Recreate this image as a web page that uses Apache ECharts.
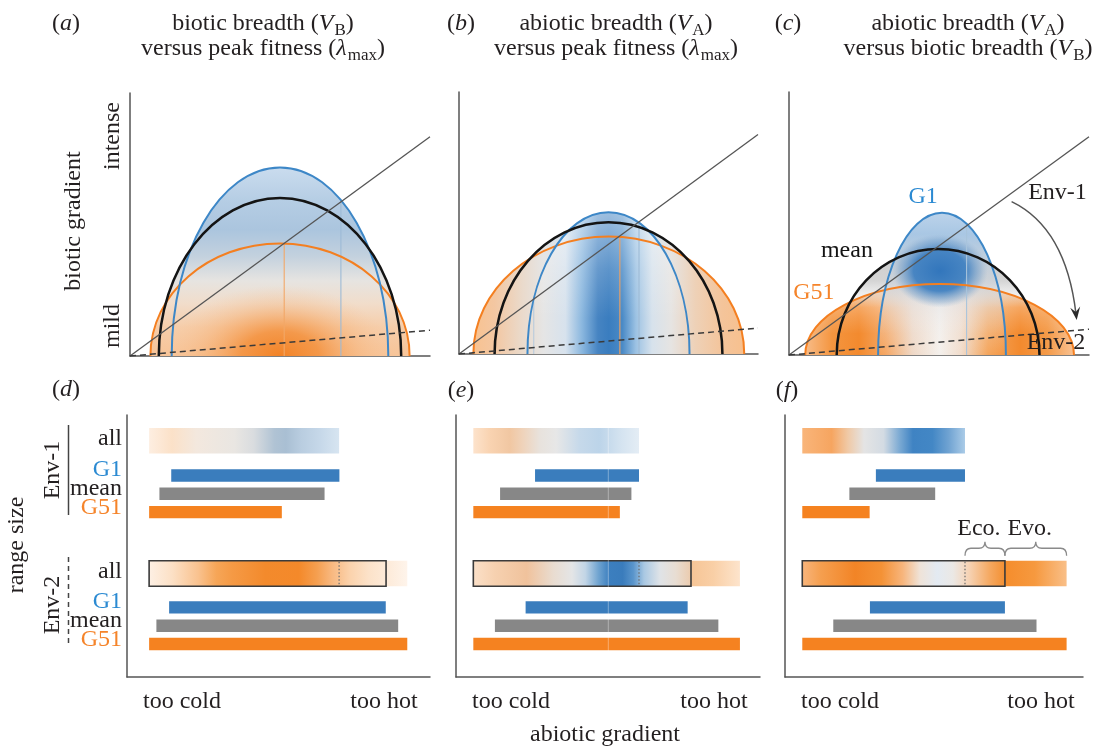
<!DOCTYPE html>
<html>
<head>
<meta charset="utf-8">
<title>Niche breadth and range size</title>
<script src="https://cdn.jsdelivr.net/npm/echarts@6/dist/echarts.min.js"></script>
<style>
html,body{margin:0;padding:0;background:#ffffff;}
#chart{width:1094px;height:749px;}
</style>
</head>
<body>
<div id="chart"></div>
<script>
// ===================== DATA =====================
// niche semi-ellipses of the top row, order: G1, mean, G51
const nicheNames = ['G1', 'mean', 'G51'];
// (a) biotic breadth vs peak fitness
const aCenter = [50.0, 50.0, 50.0];
const aHalfWidth = [36.1, 40.4, 43.2];
const aPeak = [71.7, 60.1, 42.8];
// (b) abiotic breadth vs peak fitness
const bCenter = [50.0, 50.0, 50.1];
const bHalfWidth = [27.1, 38.1, 45.3];
const bPeak = [54.1, 50.3, 44.8];
// (c) abiotic breadth vs biotic breadth
const cCenter = [51.0, 49.7, 50.2];
const cHalfWidth = [21.3, 33.8, 44.8];
const cPeak = [54.1, 40.3, 27.0];

// environment lines (x end points, y end points per panel)
const envX = [0, 100];
const env1A = [0, 83.4], env1B = [0, 83.8], env1C = [0, 83.0];
const env2A = [0, 9.8], env2B = [0, 9.9], env2C = [0, 9.8];

// where Env-1 crosses the niches (vertical markers)
const aMarkX = [70.3, 51.4], aMarkTop = [58.9, 42.6];
const bMarkX = [60.2, 53.8, 25.0], bMarkTop = [49.9, 44.8, 21.0];
const cMarkX = [59.2], cMarkTop = [49.4];

// panel (c) annotations
const cLabelText = ['G1', 'mean', 'G51', 'Env-1', 'Env-2'];
const cLabelX = [44.7, 19.3, 8.3, 89.5, 89.0];
const cLabelY = [60.1, 39.5, 23.6, 61.6, 4.6];
const cArrowX = [74.2, 92.3, 95.9];
const cArrowY = [58.3, 48.3, 13.3];

// bottom row: range limits along the abiotic gradient (0-100)
const rowNames = ['all', 'G1', 'mean', 'G51'];
const dEnv1From = [7.3, 14.6, 10.7, 7.3];
const dEnv1To   = [70.0, 70.1, 65.2, 51.1];
const dEnv2From = [7.3, 13.9, 9.7, 7.3];
const dEnv2To   = [92.5, 85.4, 89.5, 92.5];
const dEnv2Limit = 85.5;

const eEnv1From = [5.7, 26.0, 14.5, 5.7];
const eEnv1To   = [60.2, 60.2, 57.7, 53.9];
const eEnv2From = [5.7, 22.9, 12.8, 5.7];
const eEnv2To   = [93.4, 76.2, 86.3, 93.4];
const eEnv2Limit = 77.3;

const fEnv1From = [5.8, 30.5, 21.6, 5.8];
const fEnv1To   = [60.4, 60.4, 50.4, 28.4];
const fEnv2From = [5.8, 28.5, 16.2, 5.8];
const fEnv2To   = [94.5, 73.8, 84.4, 94.5];
const fEnv2Limit = 73.8;
const braceLabels = ['Eco.', 'Evo.'];

// ===================== STYLE / LAYOUT =====================
const FONT = "'Liberation Serif','Times New Roman','DejaVu Serif',serif";
const TXT = '#231f20';
const BLUE = '#3a7dbd', GREY = '#878787', ORANGE = '#f58220';
const BAR_COLORS = [null, BLUE, GREY, ORANGE];
const LINE_COLORS = ['#3d87c7', '#141414', '#f47f20'];
const LINE_WIDTHS = [2, 2.5, 2];
const LABEL_COLORS = ['#2b8ad2', '#141414', '#f5842a', TXT, TXT];
const ROW_LABEL_COLORS = [TXT, '#2b8ad2', TXT, '#f5842a'];
const ROW_ENV1 = [1.4, 3.3, 4.3, 5.3];
const ROW_ENV2 = [8.65, 10.5, 11.5, 12.5];
const ROW_LABEL_SHIFT = [-2, -6, -5, -4];
const ROW_MAX = 14.3;

const st = arr => arr.map(([o, c]) => ({offset: o, color: c}));
const A_FILL = [[0,'#cadcee'],[0.18,'#b5cde4'],[0.33,'#abc5de'],[0.47,'#c3d1de'],[0.6,'#e6e4e1'],[0.72,'#f1ddcb'],[0.85,'#f6cda9'],[1,'#f7c498']];
const A_BLOB = [[0,'rgba(242,127,32,0.95)'],[0.35,'rgba(243,136,45,0.75)'],[0.7,'rgba(246,165,95,0.3)'],[1,'rgba(248,190,140,0)']];
const B_FILL = [[0,'#f8c290'],[0.08,'#f3c7a2'],[0.18,'#eadacb'],[0.26,'#e5e5e5'],[0.34,'#d7e2ed'],[0.4,'#8cb8df'],[0.46,'#4684c2'],[0.5,'#3a7dbf'],[0.55,'#4a8ac6'],[0.6,'#9cc2e3'],[0.66,'#d7e2ec'],[0.73,'#e6e4e2'],[0.82,'#eed1b7'],[0.92,'#f4c49a'],[1,'#f7c08e']];
const B_FADE = [[0,'rgba(255,255,255,0.5)'],[0.4,'rgba(255,255,255,0.18)'],[0.75,'rgba(255,255,255,0)']];
const C_ORANGE = [[0,'#f8bd8a'],[0.1,'#f4953f'],[0.2,'#f38a2e'],[0.3,'#f5a764'],[0.4,'#efd8c6'],[0.5,'#f4f0ec'],[0.58,'#f1dccb'],[0.68,'#f4a55c'],[0.8,'#f38a2e'],[0.9,'#f49a48'],[1,'#f8c293']];
const C_OFADE = [[0,'rgba(255,255,255,0.5)'],[0.45,'rgba(255,255,255,0.15)'],[0.7,'rgba(255,255,255,0)']];
const C_GREY = [[0,'rgba(204,204,204,1)'],[0.3,'rgba(210,210,210,0.95)'],[0.42,'rgba(222,222,222,0.55)'],[0.55,'rgba(230,230,230,0)']];
const C_BLUE = [[0,'#bcd3ea'],[0.15,'#a9c7e4'],[0.3,'rgba(186,203,220,0.95)'],[0.5,'rgba(205,210,216,0.7)'],[0.7,'rgba(225,225,228,0.35)'],[1,'rgba(255,255,255,0)']];
const C_BLOB = [[0,'rgba(50,118,188,1)'],[0.55,'rgba(58,125,192,0.9)'],[0.85,'rgba(100,150,200,0.35)'],[1,'rgba(140,175,210,0)']];

const D_ALL1 = [[0,'#fdeee1'],[0.12,'#fbe1c8'],[0.25,'#f3e8de'],[0.45,'#e9e6e2'],[0.55,'#d9dcdf'],[0.66,'#b0c3d4'],[0.72,'#a9bfd3'],[0.8,'#b9cde0'],[0.9,'#c6d8e9'],[1,'#d7e5f1']];
const D_ALL2 = [[0,'#fdf0e4'],[0.09,'#fce0c5'],[0.19,'#f9c28f'],[0.26,'#f6a658'],[0.32,'#f59a45'],[0.45,'#f38a2c'],[0.58,'#f4892a'],[0.65,'#f59f50'],[0.71,'#f8b981'],[0.78,'#fbd3ad'],[0.85,'#fce2c9'],[0.91,'#fde9d6'],[1,'#fef4eb']];
const E_ALL1 = [[0,'#fde3cc'],[0.1,'#f9d3b1'],[0.22,'#f1c7a2'],[0.3,'#efd3bb'],[0.4,'#e8e2dc'],[0.5,'#e7e7e7'],[0.64,'#c6d9ea'],[0.76,'#bcd4e9'],[0.89,'#d4e3f0'],[1,'#e4edf5']];
const E_ALL2 = [[0,'#fbe0c8'],[0.08,'#f6d1b0'],[0.2,'#f0c29c'],[0.3,'#e9dcd0'],[0.37,'#e4e5e6'],[0.42,'#c2d5e6'],[0.47,'#6fa3d0'],[0.51,'#3c7fbf'],[0.56,'#3a7cbc'],[0.6,'#5a95cb'],[0.64,'#a9c8e3'],[0.7,'#dfe3e7'],[0.76,'#e8ddd2'],[0.81,'#ebcdb2'],[0.82,'#f6c596'],[0.9,'#f9cfa6'],[1,'#fde4cc']];
const F_ALL1 = [[0,'#f9b57a'],[0.18,'#f6a560'],[0.28,'#f0c9a6'],[0.38,'#e4e4e4'],[0.5,'#d3dbe3'],[0.6,'#7aa9d3'],[0.68,'#3f83c3'],[0.8,'#4387c5'],[0.9,'#70a3d2'],[1,'#aacbe7']];
const F_ALL2 = [[0,'#f8b57c'],[0.07,'#f59f4f'],[0.2,'#f28426'],[0.3,'#f49236'],[0.38,'#f7b57c'],[0.445,'#efe3d8'],[0.51,'#e3eaf2'],[0.57,'#ebe8e5'],[0.63,'#f6d3b5'],[0.71,'#f5a860'],[0.765,'#f39033'],[0.77,'#f58d2c'],[0.88,'#f6993f'],[1,'#f9bf88']];

// ===================== HELPERS =====================
const LG = echarts.graphic.LinearGradient, RG = echarts.graphic.RadialGradient;
function ellipseOf(api, cx, a, h) {
  const c = api.coord([cx, 0]);
  const s = api.size([a, h]);
  return {cx: c[0], cy: c[1], rx: s[0], ry: s[1]};
}
function blob(api, cx, cy, rx, ry, stops) {
  const c = api.coord([cx, cy]);
  const s = api.size([rx, ry]);
  return {type: 'circle', x: c[0], y: c[1], scaleX: s[0] / 100, scaleY: s[1] / 100,
    shape: {cx: 0, cy: 0, r: 100}, style: {fill: new RG(0.5, 0.5, 0.5, st(stops))}};
}
function txtStyle(extra) {
  return Object.assign({fontFamily: FONT, fontSize: 24, fill: TXT,
    align: 'center', verticalAlign: 'middle', textAlign: 'center', textVerticalAlign: 'middle'}, extra || {});
}

const topPanels = [
  {center: aCenter, half: aHalfWidth, peak: aPeak, env1: env1A, env2: env2A, markX: aMarkX, markTop: aMarkTop,
   markCol: ['#9dbbd6', '#f2a767']},
  {center: bCenter, half: bHalfWidth, peak: bPeak, env1: env1B, env2: env2B, markX: bMarkX, markTop: bMarkTop,
   markCol: ['#9dbbd6', '#f0a060', '#b8cbdc']},
  {center: cCenter, half: cHalfWidth, peak: cPeak, env1: env1C, env2: env2C, markX: cMarkX, markTop: cMarkTop,
   markCol: ['#a8c4dc']}
];

const decor = [
  // (a) vertical blue -> white -> orange wash, with an orange core
  function (api, i, shape, P) {
    const top = api.coord([0, Math.max.apply(null, P.peak)])[1], base = shape.cy;
    const els = [{type: 'ellipse', shape, style: {fill: new LG(0, top, 0, base, st(A_FILL), true)}}];
    if (i === 0) els.push(blob(api, P.center[0], 0, 37, 27, A_BLOB));
    return els;
  },
  // (b) horizontal orange / grey / blue bands
  function (api, i, shape, P) {
    const maxA = Math.max.apply(null, P.half);
    const x0 = api.coord([P.center[2] - maxA, 0])[0], x1 = api.coord([P.center[2] + maxA, 0])[0];
    const els = [{type: 'ellipse', shape, style: {fill: new LG(x0, 0, x1, 0, st(B_FILL), true)}}];
    if (i === 0) {
      els.push({type: 'ellipse', shape, style: {fill: new LG(0, shape.cy - shape.ry, 0, shape.cy, st(B_FADE), true)}});
    }
    return els;
  },
  // (c)
  function (api, i, shape, P) {
    const top = shape.cy - shape.ry;
    if (i === 2) {
      return [
        {type: 'ellipse', shape, style: {fill: new LG(shape.cx - shape.rx, 0, shape.cx + shape.rx, 0, st(C_ORANGE), true)}},
        {type: 'ellipse', shape, style: {fill: new LG(0, top, 0, shape.cy, st(C_OFADE), true)}}
      ];
    }
    if (i === 1) {
      return [{type: 'ellipse', shape, style: {fill: new LG(0, top, 0, shape.cy, st(C_GREY), true)}}];
    }
    return [
      {type: 'ellipse', shape, style: {fill: new LG(0, top, 0, shape.cy, st(C_BLUE), true)}},
      blob(api, 50.3, 32, 16, 14, C_BLOB)
    ];
  }
];

const series = [];
topPanels.forEach((P, g) => {
  const rows = [2, 1, 0].map(i => [P.center[i], P.half[i], P.peak[i], i]);
  series.push({
    type: 'custom', xAxisIndex: g, yAxisIndex: g, clip: true, z: 1, silent: true,
    encode: {x: 0, y: 2}, data: rows,
    renderItem(params, api) {
      const i = api.value(3);
      const shape = ellipseOf(api, api.value(0), api.value(1), api.value(2));
      return {type: 'group', children: decor[g](api, i, shape, P)};
    }
  });
  P.markX.forEach((x, k) => {
    series.push({type: 'line', xAxisIndex: g, yAxisIndex: g, z: 3, silent: true, symbol: 'none',
      data: [[x, 0], [x, P.markTop[k]]], lineStyle: {color: P.markCol[k], width: 1.1}});
  });
  series.push({
    type: 'custom', xAxisIndex: g, yAxisIndex: g, clip: true, z: 4, silent: true,
    encode: {x: 0, y: 2}, data: [2, 0, 1].map(i => [P.center[i], P.half[i], P.peak[i], i]),
    renderItem(params, api) {
      const i = api.value(3);
      const shape = ellipseOf(api, api.value(0), api.value(1), api.value(2));
      return {type: 'ellipse', shape, style: {fill: 'none', stroke: LINE_COLORS[i], lineWidth: LINE_WIDTHS[i]}};
    }
  });
  series.push({type: 'line', xAxisIndex: g, yAxisIndex: g, z: 5, silent: true, symbol: 'none',
    data: envX.map((x, k) => [x, P.env1[k]]), lineStyle: {color: '#555555', width: 1.3}});
  series.push({type: 'line', xAxisIndex: g, yAxisIndex: g, z: 5, silent: true, symbol: 'none',
    data: envX.map((x, k) => [x, P.env2[k]]), lineStyle: {color: '#3a3a3a', width: 1.5, type: [6, 4]}});
});

// panel (c) labels and arrow
series.push({
  type: 'custom', xAxisIndex: 2, yAxisIndex: 2, z: 6, silent: true, encode: {x: 0, y: 1},
  data: cLabelText.map((t, i) => [cLabelX[i], cLabelY[i], i]),
  renderItem(params, api) {
    const p = api.coord([api.value(0), api.value(1)]);
    const i = api.value(2);
    return {type: 'text', style: txtStyle({text: cLabelText[i], x: p[0], y: p[1], fill: LABEL_COLORS[i]})};
  }
});
series.push({
  type: 'custom', xAxisIndex: 2, yAxisIndex: 2, z: 6, silent: true, encode: {x: 0, y: 1},
  data: [[cArrowX[0], cArrowY[0], cArrowX[1], cArrowY[1], cArrowX[2], cArrowY[2]]],
  renderItem(params, api) {
    const p0 = api.coord([api.value(0), api.value(1)]);
    const pc = api.coord([api.value(2), api.value(3)]);
    const p2 = api.coord([api.value(4), api.value(5)]);
    let dx = p2[0] - pc[0], dy = p2[1] - pc[1];
    const len = Math.sqrt(dx * dx + dy * dy); dx /= len; dy /= len;
    const nx = -dy, ny = dx;
    const L = 13, W = 5, N = 8;
    return {type: 'group', children: [
      {type: 'bezierCurve', shape: {x1: p0[0], y1: p0[1], cpx1: pc[0], cpy1: pc[1], x2: p2[0] - dx * 6, y2: p2[1] - dy * 6},
        style: {fill: 'none', stroke: '#555555', lineWidth: 1.5}},
      {type: 'polygon', shape: {points: [
        [p2[0], p2[1]],
        [p2[0] - dx * L + nx * W, p2[1] - dy * L + ny * W],
        [p2[0] - dx * N, p2[1] - dy * N],
        [p2[0] - dx * L - nx * W, p2[1] - dy * L - ny * W]]},
        style: {fill: '#2a2a2a'}}
    ]};
  }
});

// bottom row bars
function barsSeries(g, from1, to1, from2, to2, limit, grad1, grad2) {
  const data = [];
  for (let i = 0; i < rowNames.length; i++) {
    data.push([from1[i], to1[i], ROW_ENV1[i], i, 0, 0]);
    data.push([from2[i], to2[i], ROW_ENV2[i], i, i === 0 ? limit : 0, i === 0 ? to1[0] : 0]);
  }
  return {
    type: 'custom', xAxisIndex: g, yAxisIndex: g, z: 3, silent: true,
    encode: {x: [0, 1], y: 2}, data,
    renderItem(params, api) {
      const s = api.value(0), e = api.value(1), row = api.value(2), kind = api.value(3);
      const lim = api.value(4), mark = api.value(5);
      const a = api.coord([s, row]), b = api.coord([e, row]);
      const unit = api.size([0, 1])[1];
      const h = kind === 0 ? unit * 1.39 : unit * 0.68;
      const y0 = a[1] - h / 2;
      const fill = kind === 0 ? new LG(0, 0, 1, 0, st(lim > 0 ? grad2 : grad1)) : BAR_COLORS[kind];
      const kids = [{type: 'rect', shape: {x: a[0], y: y0, width: b[0] - a[0], height: h}, style: {fill}}];
      if (lim > 0) {
        const m = api.coord([mark, row]), l = api.coord([lim, row]);
        kids.push({type: 'line', shape: {x1: m[0], y1: y0 + 1, x2: m[0], y2: y0 + h - 1},
          style: {stroke: '#6a6a6a', lineWidth: 1.2, lineDash: [1.5, 2]}});
        kids.push({type: 'rect', shape: {x: a[0], y: y0, width: l[0] - a[0], height: h},
          style: {fill: 'none', stroke: '#3b3b3b', lineWidth: 1.6}});
      }
      return {type: 'group', children: kids};
    }
  };
}
series.push(barsSeries(3, dEnv1From, dEnv1To, dEnv2From, dEnv2To, dEnv2Limit, D_ALL1, D_ALL2));
series.push(barsSeries(4, eEnv1From, eEnv1To, eEnv2From, eEnv2To, eEnv2Limit, E_ALL1, E_ALL2));
series.push(barsSeries(5, fEnv1From, fEnv1To, fEnv2From, fEnv2To, fEnv2Limit, F_ALL1, F_ALL2));
series.push({type: 'line', xAxisIndex: 4, yAxisIndex: 4, z: 4, silent: true, symbol: 'none',
  data: [[50.1, 0.6], [50.1, 13.2]], lineStyle: {color: 'rgba(255,255,255,0.35)', width: 1}});

// row labels (panel d)
series.push({
  type: 'custom', xAxisIndex: 3, yAxisIndex: 3, z: 4, silent: true, encode: {x: 0, y: 1},
  data: rowNames.map((n, i) => [0, ROW_ENV1[i], i]).concat(rowNames.map((n, i) => [0, ROW_ENV2[i], i])),
  renderItem(params, api) {
    const p = api.coord([0, api.value(1)]);
    const k = api.value(2);
    return {type: 'text', style: txtStyle({text: rowNames[k], x: p[0] - 5, y: p[1] + ROW_LABEL_SHIFT[k],
      fill: ROW_LABEL_COLORS[k], align: 'right', textAlign: 'right'})};
  }
});

// braces (panel f)
series.push({
  type: 'custom', xAxisIndex: 5, yAxisIndex: 5, z: 4, silent: true, encode: {x: [0, 1], y: 2},
  data: [[fEnv1To[0], fEnv2Limit, ROW_ENV2[0], 0], [fEnv2Limit, fEnv2To[0], ROW_ENV2[0], 1]],
  renderItem(params, api) {
    const row = api.value(2), k = api.value(3);
    const a = api.coord([api.value(0), row]), b = api.coord([api.value(1), row]);
    const unit = api.size([0, 1])[1];
    const barTop = a[1] - unit * 1.39 / 2;
    const yb = barTop - 5, yt = barTop - 12.5, yp = barTop - 19;
    const xm = (a[0] + b[0]) / 2, r = 6;
    const d = 'M' + a[0] + ',' + yb + ' Q' + a[0] + ',' + yt + ' ' + (a[0] + r) + ',' + yt +
      ' L' + (xm - r) + ',' + yt + ' Q' + xm + ',' + yt + ' ' + xm + ',' + yp +
      ' Q' + xm + ',' + yt + ' ' + (xm + r) + ',' + yt +
      ' L' + (b[0] - r) + ',' + yt + ' Q' + b[0] + ',' + yt + ' ' + b[0] + ',' + yb;
    return {type: 'group', children: [
      {type: 'path', shape: {pathData: d}, style: {fill: 'none', stroke: '#8a8a8a', lineWidth: 1.3}},
      {type: 'text', style: txtStyle({text: braceLabels[k], x: xm - 6, y: barTop - 32})}
    ]};
  }
});

// ===================== AXES =====================
const grids = [
  {left: 130, top: 93, width: 300, height: 263},
  {left: 459, top: 92, width: 299, height: 262},
  {left: 789, top: 92, width: 300, height: 263},
  {left: 127, top: 415, width: 303, height: 262},
  {left: 456, top: 415, width: 304, height: 262},
  {left: 785, top: 415, width: 298, height: 262}
];
const axisBase = {type: 'value', axisTick: {show: false}, axisLabel: {show: false}, splitLine: {show: false},
  axisLine: {show: true, onZero: false, lineStyle: {color: '#555555', width: 1.5}}};
const xAxes = grids.map((g, i) => Object.assign({}, axisBase, {gridIndex: i, min: 0, max: 100}));
const yAxes = grids.map((g, i) => Object.assign({}, axisBase, i < 3 ? {gridIndex: i, min: 0, max: 100}
  : {gridIndex: i, min: 0, max: ROW_MAX, inverse: true}));

// ===================== TEXT =====================
// title lines are composed of normal / italic / subscript pieces, measured with canvas
const PIECE = {
  n: {fontSize: 24, fontStyle: 'normal', dy: 0, gap: 0},
  i: {fontSize: 24, fontStyle: 'italic', dy: 0, gap: 0},
  s: {fontSize: 17, fontStyle: 'normal', dy: 7, gap: 1}
};
const mctx = document.createElement('canvas').getContext('2d');
function pieceWidth(t, k) {
  const p = PIECE[k];
  mctx.font = p.fontStyle + ' ' + p.fontSize + 'px ' + FONT;
  return mctx.measureText(t).width + p.gap;
}
function composedLine(cx, y, parts) {
  const widths = parts.map(([t, k]) => pieceWidth(t, k));
  let x = cx - widths.reduce((s, w) => s + w, 0) / 2;
  return parts.map(([t, k], j) => {
    const p = PIECE[k];
    const el = {type: 'text', x: x + p.gap, y: y + p.dy, silent: true,
      style: txtStyle({text: t, fontSize: p.fontSize, fontStyle: p.fontStyle, align: 'left', textAlign: 'left'})};
    x += widths[j];
    return el;
  });
}
function letter(l, x, y) {
  return composedLine(x, y, [['(', 'n'], [l, 'i'], [')', 'n']]);
}
function vtext(t, x, y) {
  return {type: 'text', x, y, rotation: Math.PI / 2, silent: true, style: txtStyle({text: t})};
}
function htext(t, x, y) {
  return {type: 'text', x, y, silent: true, style: txtStyle({text: t})};
}
const L1 = 23.5, L2 = 48.5;
const graphics = [].concat(
  composedLine(263, L1, [['biotic breadth (', 'n'], ['V', 'i'], ['B', 's'], [')', 'n']]),
  composedLine(263, L2, [['versus peak fitness (', 'n'], ['λ', 'i'], ['max', 's'], [')', 'n']]),
  composedLine(616, L1, [['abiotic breadth (', 'n'], ['V', 'i'], ['A', 's'], [')', 'n']]),
  composedLine(616, L2, [['versus peak fitness (', 'n'], ['λ', 'i'], ['max', 's'], [')', 'n']]),
  composedLine(968, L1, [['abiotic breadth (', 'n'], ['V', 'i'], ['A', 's'], [')', 'n']]),
  composedLine(968, L2, [['versus biotic breadth (', 'n'], ['V', 'i'], ['B', 's'], [')', 'n']]),
  letter('a', 66, L1), letter('b', 461, L1), letter('c', 788, L1),
  letter('d', 66, 390), letter('e', 461, 391), letter('f', 787, 391),
  [
    vtext('intense', 113, 136), vtext('mild', 113, 326), vtext('biotic gradient', 74, 221),
    vtext('range size', 17, 545), vtext('Env-1', 53, 470), vtext('Env-2', 53, 605),
    {type: 'line', silent: true, shape: {x1: 68.5, y1: 425, x2: 68.5, y2: 515}, style: {stroke: '#444', lineWidth: 1.5}},
    {type: 'line', silent: true, shape: {x1: 68.5, y1: 557, x2: 68.5, y2: 647}, style: {stroke: '#444', lineWidth: 1.5, lineDash: [5, 4]}},
    htext('too cold', 182, 702), htext('too hot', 384, 702),
    htext('too cold', 511, 702), htext('too hot', 714, 702),
    htext('too cold', 840, 702), htext('too hot', 1041, 702),
    htext('abiotic gradient', 605, 735)
  ]
);

const chart = echarts.init(document.getElementById('chart'), null, {renderer: 'canvas'});
chart.setOption({
  animation: false,
  backgroundColor: '#ffffff',
  grid: grids,
  xAxis: xAxes,
  yAxis: yAxes,
  series,
  graphic: graphics
});
</script>
</body>
</html>
